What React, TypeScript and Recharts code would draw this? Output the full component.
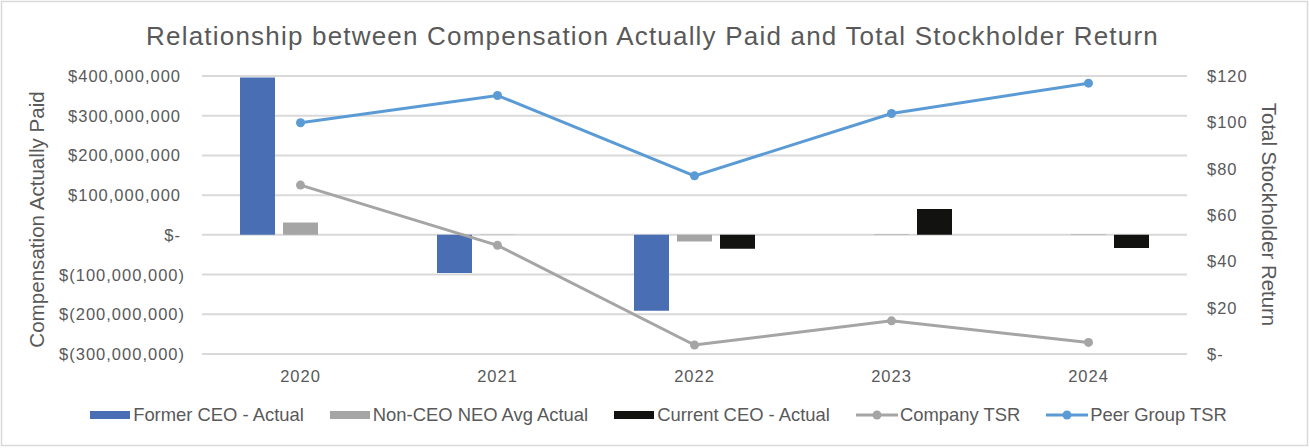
import React from 'react';
import { ComposedChart, Bar, Line, XAxis, YAxis, CartesianGrid } from 'recharts';

const years = ['2020', '2021', '2022', '2023', '2024'];
const formerCeoActual = [396000000, -96000000, -191000000, null, null];
const nonCeoNeoAvgActual = [31000000, 1000000, -17000000, 1500000, 1500000];
const currentCeoActual = [null, null, -35000000, 65000000, -33000000];
const companyTsr = [72.9, 46.9, 3.9, 14.3, 5.0];
const peerGroupTsr = [99.8, 111.6, 76.9, 103.8, 116.9];

const compTicks = [-300000000, -200000000, -100000000, 0, 100000000, 200000000, 300000000, 400000000];
const tsrTicks = [0, 20, 40, 60, 80, 100, 120];

const titleText = 'Relationship between Compensation Actually Paid and Total Stockholder Return';
const leftAxisTitle = 'Compensation Actually Paid';
const rightAxisTitle = 'Total Stockholder Return';

const COLORS = {
  former: '#4A6EB4',
  nonCeo: '#A5A5A5',
  current: '#121311',
  company: '#A5A5A5',
  peer: '#5B9BD5',
  text: '#595959',
  grid: '#D9D9D9',
};

const legendItems = [
  { name: 'Former CEO - Actual', color: COLORS.former, kind: 'bar' },
  { name: 'Non-CEO NEO Avg Actual', color: COLORS.nonCeo, kind: 'bar' },
  { name: 'Current CEO - Actual', color: COLORS.current, kind: 'bar' },
  { name: 'Company TSR', color: COLORS.company, kind: 'line' },
  { name: 'Peer Group TSR', color: COLORS.peer, kind: 'line' },
];

const data = years.map((year, i) => ({
  year,
  formerCeoActual: formerCeoActual[i],
  nonCeoNeoAvgActual: nonCeoNeoAvgActual[i],
  currentCeoActual: currentCeoActual[i],
  companyTsr: companyTsr[i],
  peerGroupTsr: peerGroupTsr[i],
}));

const FONT = '"Liberation Sans", Arial, sans-serif';

const fmtComp = (v: number) => {
  if (v === 0) return '$-';
  const s = Math.abs(v).toLocaleString('en-US');
  return v < 0 ? `$(${s})` : `$${s}`;
};
const fmtTsr = (v: number) => (v === 0 ? '$-' : `$${v}`);

const LeftTick = (props: any) => {
  const { x, y, payload } = props;
  const v = payload.value as number;
  return (
    <text x={x + (v < 0 ? 5 : 1)} y={y + 6} textAnchor="end" fill={COLORS.text} fontSize={16.5} letterSpacing={1} fontFamily={FONT}>
      {fmtComp(v)}
    </text>
  );
};

const RightTick = (props: any) => {
  const { x, y, payload } = props;
  return (
    <text x={x} y={y + 6} textAnchor="start" fill={COLORS.text} fontSize={16.5} letterSpacing={1} fontFamily={FONT}>
      {fmtTsr(payload.value)}
    </text>
  );
};

const XTick = (props: any) => {
  const { x, y, payload } = props;
  return (
    <text x={x} y={y + 12} textAnchor="middle" fill={COLORS.text} fontSize={16.5} letterSpacing={1} fontFamily={FONT}>
      {payload.value}
    </text>
  );
};

export default function App() {
  return (
    <div style={{ position: 'absolute', left: 0, top: 0, width: 1310, height: 448, background: '#fff', fontFamily: FONT }}>
      <ComposedChart
        width={1310}
        height={448}
        data={data}
        margin={{ top: 76, right: 0, bottom: 64, left: 0 }}
        barGap={8}
        barSize={35}
      >
        <CartesianGrid yAxisId="left" vertical={false} stroke={COLORS.grid} strokeWidth={2} />
        <XAxis dataKey="year" axisLine={false} tickLine={false} tickSize={0} tickMargin={16} height={30} interval={0} tick={<XTick />} />
        <YAxis
          yAxisId="left"
          orientation="left"
          type="number"
          domain={[-300000000, 400000000]}
          ticks={compTicks}
          interval={0}
          width={202}
          axisLine={false}
          tickLine={false}
          tickSize={0}
          tickMargin={22}
          tick={<LeftTick />}
        />
        <YAxis
          yAxisId="right"
          orientation="right"
          type="number"
          domain={[0, 120]}
          ticks={tsrTicks}
          interval={0}
          width={123}
          axisLine={false}
          tickLine={false}
          tickSize={0}
          tickMargin={20}
          tick={<RightTick />}
        />
        <Bar yAxisId="left" dataKey="formerCeoActual" name="Former CEO - Actual" fill={COLORS.former} isAnimationActive={false} />
        <Bar yAxisId="left" dataKey="nonCeoNeoAvgActual" name="Non-CEO NEO Avg Actual" fill={COLORS.nonCeo} isAnimationActive={false} />
        <Bar yAxisId="left" dataKey="currentCeoActual" name="Current CEO - Actual" fill={COLORS.current} isAnimationActive={false} />
        <Line
          yAxisId="right"
          dataKey="companyTsr"
          name="Company TSR"
          stroke={COLORS.company}
          strokeWidth={3}
          dot={{ r: 4.5, fill: COLORS.company, stroke: COLORS.company, strokeWidth: 0 }}
          activeDot={false}
          isAnimationActive={false}
        />
        <Line
          yAxisId="right"
          dataKey="peerGroupTsr"
          name="Peer Group TSR"
          stroke={COLORS.peer}
          strokeWidth={3}
          dot={{ r: 4.5, fill: COLORS.peer, stroke: COLORS.peer, strokeWidth: 0 }}
          activeDot={false}
          isAnimationActive={false}
        />
      </ComposedChart>

      <svg width={1310} height={448} style={{ position: 'absolute', left: 0, top: 0, pointerEvents: 'none' }}>
        <rect x={1.5} y={1.5} width={1306} height={444} fill="none" stroke={COLORS.grid} strokeWidth={1.5} />
        <text x={652.5} y={45} textAnchor="middle" fill={COLORS.text} fontSize={26} letterSpacing={1.2} fontFamily={FONT}>
          {titleText}
        </text>
        <text x={44} y={219.5} textAnchor="middle" fill={COLORS.text} fontSize={20.6} fontFamily={FONT} transform="rotate(-90 44 219.5)">
          {leftAxisTitle}
        </text>
        <text x={1262} y={214.5} textAnchor="middle" fill={COLORS.text} fontSize={20.4} fontFamily={FONT} transform="rotate(90 1262 214.5)">
          {rightAxisTitle}
        </text>
      </svg>

      <div
        style={{
          position: 'absolute',
          left: 0,
          top: 405,
          width: 1310,
          height: 20,
          display: 'flex',
          justifyContent: 'center',
          alignItems: 'center',
          paddingLeft: 7,
          boxSizing: 'border-box',
          fontSize: 18.4,
          lineHeight: '20px',
          color: COLORS.text,
          fontFamily: FONT,
          whiteSpace: 'nowrap',
        }}
      >
        {legendItems.map((item, i) => (
          <div key={item.name} style={{ display: 'flex', alignItems: 'center', marginRight: i < legendItems.length - 1 ? 26 : 0 }}>
            {item.kind === 'bar' ? (
              <div style={{ width: 40, height: 8, background: item.color, marginRight: 3 }} />
            ) : (
              <svg width={42} height={12} style={{ marginRight: 2 }}>
                <line x1={0} y1={6} x2={42} y2={6} stroke={item.color} strokeWidth={3} />
                <circle cx={21} cy={6} r={4.5} fill={item.color} />
              </svg>
            )}
            <span>{item.name}</span>
          </div>
        ))}
      </div>
    </div>
  );
}
